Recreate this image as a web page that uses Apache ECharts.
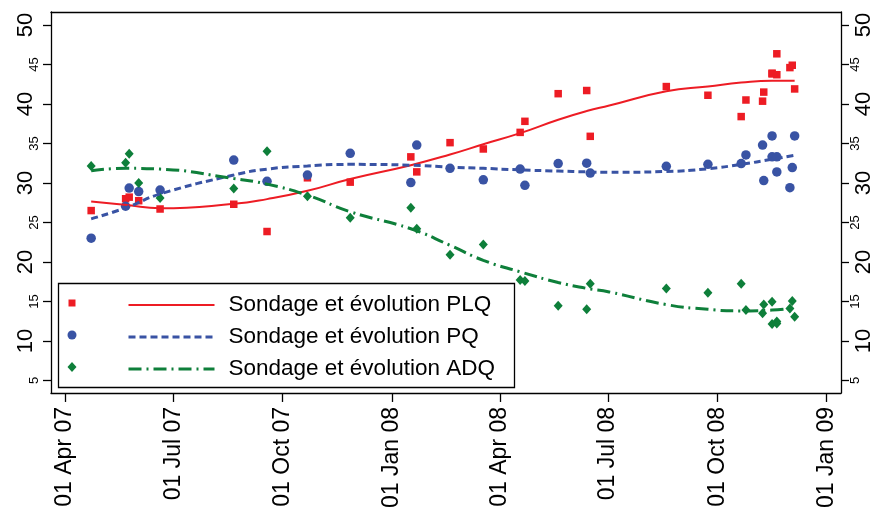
<!DOCTYPE html>
<html><head><meta charset="utf-8">
<script src="https://cdn.jsdelivr.net/npm/echarts@6/dist/echarts.min.js"></script>
<style>html,body{margin:0;padding:0;background:#fff}#c{width:875px;height:511px}</style>
</head><body><div id="c"></div>
<script>
// ---- data ----
const pollDates = ['2007-04-23','2007-05-22','2007-05-25','2007-06-02','2007-06-20','2007-08-21','2007-09-18','2007-10-22','2007-11-27',
  '2008-01-17','2008-01-22','2008-02-19','2008-03-18','2008-04-18','2008-04-22','2008-05-20','2008-06-13','2008-06-16',
  '2008-08-19','2008-09-23','2008-10-21','2008-10-25','2008-11-08','2008-11-09','2008-11-16','2008-11-16','2008-11-20','2008-11-20',
  '2008-12-01','2008-12-03','2008-12-05'];
const plqPolls = [26.5,28.0,28.2,27.75,26.7,27.3,23.85,30.65,30.1,33.3,31.4,35.1,34.3,36.4,37.8,41.3,41.7,35.9,
  42.2,41.1,38.4,40.5,40.35,41.5,43.9,43.8,43.7,46.35,44.6,44.9,41.9];
const pqPolls = [23.0,27.05,29.35,28.9,29.1,32.9,30.2,31.0,33.75,30.05,34.8,31.85,30.4,31.75,29.7,32.45,32.5,31.25,
  32.1,32.35,32.45,33.55,34.8,30.3,35.95,33.3,33.3,31.4,29.4,31.95,35.95];
const adqPolls = [32.15,32.55,33.7,30.0,28.1,29.3,34.0,28.3,25.6,26.85,24.2,20.9,22.2,17.7,17.6,14.45,14.0,17.25,
  16.65,16.1,17.25,13.9,13.5,14.6,14.95,12.15,12.45,12.2,14.1,15.05,13.05];

const trendDates = ['2007-04-23','2007-05-23','2007-06-20','2007-08-21','2007-09-18','2007-10-22','2007-11-27','2008-01-17',
  '2008-02-19','2008-03-18','2008-04-18','2008-05-20','2008-06-13','2008-07-02','2008-08-19','2008-09-23','2008-10-21','2008-11-16','2008-12-05'];
const plqTrend = [27.65,27.2,26.8,27.35,27.95,29.0,30.5,32.25,33.6,34.9,36.3,38.0,39.1,39.8,41.6,42.2,42.7,42.95,42.95];
const pqTrend  = [25.45,26.9,28.6,31.0,31.75,32.15,32.35,32.25,32.0,31.85,31.65,31.5,31.4,31.35,31.45,31.8,32.35,33.0,33.5];
const adqTrend = [31.55,31.85,31.75,30.55,29.85,28.45,26.35,24.2,22.1,20.2,18.75,17.4,16.65,16.2,14.6,14.0,13.8,13.9,14.2];

const xTickDates = ['2007-04-01','2007-07-01','2007-10-01','2008-01-01','2008-04-01','2008-07-01','2008-10-01','2009-01-01'];
const yTicksMajor = [10,20,30,40,50];
const yTicksMinor = [5,15,25,35,45];
const pointNames = ['PLQ','PQ','ADQ'];
const trendNames = ['Sondage et évolution PLQ','Sondage et évolution PQ','Sondage et évolution ADQ'];
const monthNames = ['Jan','Feb','Mar','Apr','May','Jun','Jul','Aug','Sep','Oct','Nov','Dec'];

// ---- build ----
const DAY = 86400000;
const t = s => Date.parse(s);
const xTicks = xTickDates.map(t);
const xMin = xTicks[0] - 11.8 * DAY;
const xMax = xTicks[xTicks.length - 1] + 12.0 * DAY;
const yMin = 3.41, yMax = 51.64;
const pair = (dates, vals) => dates.map((d, i) => [t(d), vals[i]]);
const fmtDate = v => {
  const d = new Date(v);
  const dd = String(d.getUTCDate()).padStart(2, '0');
  const yy = String(d.getUTCFullYear() % 100).padStart(2, '0');
  return dd + ' ' + monthNames[d.getUTCMonth()] + ' ' + yy;
};
const RED = '#ED1C24', BLUE = '#3953A4', GREEN = '#0E7F3A';
const FONT = 'Liberation Sans';
const black = { color: '#000', width: 1.3 };

function yAxis(pos, ticks, size, margin, showLine) {
  return {
    type: 'value', position: pos, min: yMin, max: yMax,
    axisLine: { show: showLine, lineStyle: black },
    axisTick: { show: true, length: 8, customValues: ticks, lineStyle: black },
    axisLabel: { customValues: ticks, rotate: 90, margin: margin, fontSize: size, color: '#000', fontFamily: FONT },
    splitLine: { show: false }
  };
}
function markerLegend(name, left, top, w, h) {
  return {
    data: [name], orient: 'vertical', left: left, top: top, padding: 0,
    itemWidth: w, itemHeight: h, selectedMode: false,
    formatter: () => '', textStyle: { fontSize: 6 }, z: 5
  };
}

const chart = echarts.init(document.getElementById('c'), null, { renderer: 'canvas' });
chart.setOption({
  animation: false,
  backgroundColor: '#fff',
  grid: { left: 51, right: 34, top: 12, bottom: 116, containLabel: false },
  xAxis: [{
    type: 'value', position: 'bottom', min: xMin, max: xMax,
    axisLine: { show: true, onZero: false, lineStyle: black },
    axisTick: { show: true, length: 9, customValues: xTicks, lineStyle: black },
    axisLabel: { customValues: xTicks, rotate: 90, margin: 14, fontSize: 23, color: '#000', fontFamily: FONT, formatter: fmtDate },
    splitLine: { show: false }
  }, {
    type: 'value', position: 'top', min: xMin, max: xMax,
    axisLine: { show: true, onZero: false, lineStyle: black },
    axisTick: { show: false }, axisLabel: { show: false }, splitLine: { show: false }
  }],
  yAxis: [
    yAxis('left', yTicksMajor, 22, 14, true),
    yAxis('left', yTicksMinor, 13, 10, false),
    yAxis('right', yTicksMajor, 22, 12, true),
    yAxis('right', yTicksMinor, 13, 8, false)
  ],
  graphic: [{
    type: 'rect', z: 3,
    shape: { x: 58.5, y: 283.5, width: 456, height: 104 },
    style: { fill: '#fff', stroke: '#000', lineWidth: 1.3 }
  }],
  legend: [
    markerLegend(pointNames[0], 68.5, 299.5, 7, 7),
    markerLegend(pointNames[1], 67.5, 330.5, 9, 9),
    markerLegend(pointNames[2], 67.5, 362, 9, 10),
    {
      data: trendNames, orient: 'vertical', left: 127, top: 293, padding: 0,
      itemWidth: 86, itemHeight: 14, itemGap: 8, selectedMode: false,
      itemStyle: { opacity: 0 },
      lineStyle: { width: 'inherit' },
      textStyle: { fontSize: 22.5, lineHeight: 24, color: '#000', fontFamily: FONT, padding: [0, 0, 0, 9] }, z: 5
    }
  ],
  series: [
    { name: pointNames[0], type: 'scatter', data: pair(pollDates, plqPolls), symbol: 'rect', symbolSize: 7.5, itemStyle: { color: RED, opacity: 1 } },
    { name: pointNames[1], type: 'scatter', data: pair(pollDates, pqPolls), symbol: 'circle', symbolSize: 9.5, itemStyle: { color: BLUE, opacity: 1 } },
    { name: pointNames[2], type: 'scatter', data: pair(pollDates, adqPolls), symbol: 'diamond', symbolSize: [9, 10], itemStyle: { color: GREEN, opacity: 1 } },
    { name: trendNames[0], type: 'line', data: pair(trendDates, plqTrend), smooth: true, showSymbol: false, symbol: 'circle',
      itemStyle: { color: RED }, lineStyle: { color: RED, width: 2 } },
    { name: trendNames[1], type: 'line', data: pair(trendDates, pqTrend), smooth: true, showSymbol: false, symbol: 'circle',
      itemStyle: { color: BLUE }, lineStyle: { color: BLUE, width: 3, type: [7, 4], cap: 'butt' } },
    { name: trendNames[2], type: 'line', data: pair(trendDates, adqTrend), smooth: true, showSymbol: false, symbol: 'circle',
      itemStyle: { color: GREEN }, lineStyle: { color: GREEN, width: 3, type: [13, 5, 2, 5], cap: 'butt' } }
  ]
});
</script></body></html>
